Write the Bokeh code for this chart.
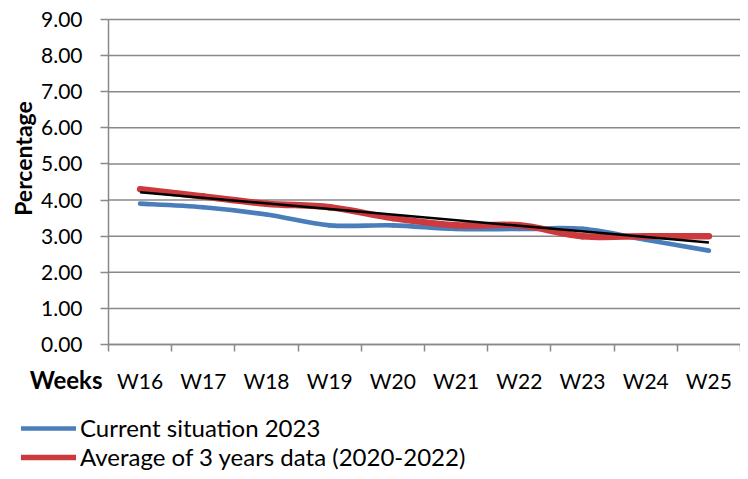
import numpy as np
from bokeh.plotting import figure
from bokeh.models import FixedTicker, Label, Legend, LegendItem, Range1d
from bokeh.embed import file_html
from bokeh.resources import INLINE

weeks = ["W16", "W17", "W18", "W19", "W20", "W21", "W22", "W23", "W24", "W25"]
current_2023 = [3.9, 3.8, 3.6, 3.3, 3.3, 3.2, 3.2, 3.2, 2.9, 2.6]
avg_2020_2022 = [4.3, 4.1, 3.9, 3.8, 3.5, 3.3, 3.3, 3.0, 3.0, 3.0]
y_ticks = [0, 1, 2, 3, 4, 5, 6, 7, 8, 9]

FONT = "Lato"
FS = "21px"
GRID = "#898989"
BLUE = "#4A7EBB"
RED = "#CD3A3D"

W, H = 740, 471
# pixel layout of the plotting area inside the canvas
PL, PR, PT, PB = 108, 740, 19, 344

n = len(weeks)
xs = np.arange(1, n + 1, dtype=float)
x_lo, x_hi = 0.5, n + 0.5
y_lo, y_hi = 0, 9
xppu = (PR - PL) / (x_hi - x_lo)
yppu = (PB - PT) / (y_hi - y_lo)

p = figure(width=W, height=H, output_backend="svg", toolbar_location=None,
           x_range=Range1d(x_lo - PL / xppu, x_hi + (W - PR) / xppu),
           y_range=Range1d(y_lo - (H - PB) / yppu, y_hi + PT / yppu),
           min_border=0, min_border_left=0, min_border_right=0,
           min_border_top=0, min_border_bottom=0)
p.outline_line_color = None
p.background_fill_color = "white"
p.xgrid.visible = False
p.ygrid.visible = False

# horizontal gridlines, spanning the category area only
p.segment(x0=[x_lo] * len(y_ticks), x1=[x_hi] * len(y_ticks), y0=y_ticks, y1=y_ticks,
          line_color=GRID, line_width=1.5, level="underlay")


def smooth(x, y):
    x = np.asarray(x, float)
    y = np.asarray(y, float)
    m = len(x)
    px = np.concatenate([[x[0]], x, [x[-1]]])
    py = np.concatenate([[y[0]], y, [y[-1]]])
    d = dict(x0=[], y0=[], x1=[], y1=[], cx0=[], cy0=[], cx1=[], cy1=[])
    for i in range(m - 1):
        a, b, c, e = i, i + 1, i + 2, i + 3
        d["x0"].append(px[b]); d["y0"].append(py[b])
        d["x1"].append(px[c]); d["y1"].append(py[c])
        d["cx0"].append(px[b] + (px[c] - px[a]) / 6)
        d["cy0"].append(py[b] + (py[c] - py[a]) / 6)
        d["cx1"].append(px[c] - (px[e] - px[b]) / 6)
        d["cy1"].append(py[c] - (py[e] - py[b]) / 6)
    return d


p.bezier(source=smooth(xs, current_2023), x0="x0", y0="y0", x1="x1", y1="y1",
         cx0="cx0", cy0="cy0", cx1="cx1", cy1="cy1",
         line_color=BLUE, line_width=4.7, line_cap="round")
p.bezier(source=smooth(xs, avg_2020_2022), x0="x0", y0="y0", x1="x1", y1="y1",
         cx0="cx0", cy0="cy0", cx1="cx1", cy1="cy1",
         line_color=RED, line_width=6.5, line_cap="round")

# linear trendline of the 3-year average
k, b0 = np.polyfit(xs, np.asarray(avg_2020_2022), 1)
p.line([xs[0], xs[-1]], [k * xs[0] + b0, k * xs[-1] + b0], line_color="black", line_width=2.5)

# legend-only glyphs
lb = p.line([np.nan], [np.nan], line_color=BLUE, line_width=4.5, line_cap="round")
lr = p.line([np.nan], [np.nan], line_color=RED, line_width=5.5, line_cap="round")

# x axis
p.xaxis.fixed_location = 0
p.xaxis.bounds = (x_lo, x_hi)
p.xaxis.ticker = FixedTicker(ticks=list(xs), minor_ticks=list(np.arange(x_lo, x_hi + 0.01, 1.0)))
p.xaxis.major_label_overrides = {float(v): w for v, w in zip(xs, weeks)}
p.xaxis.major_label_overrides.update({int(v): w for v, w in zip(xs, weeks)})
p.xaxis.major_tick_out = 0
p.xaxis.major_tick_in = 0
p.xaxis.minor_tick_out = 7
p.xaxis.minor_tick_in = 0
p.xaxis.minor_tick_line_color = GRID
p.xaxis.minor_tick_line_width = 1.5
p.xaxis.axis_line_color = GRID
p.xaxis.axis_line_width = 1.5
p.xaxis.major_label_standoff = 16
p.xaxis.major_label_text_font = FONT
p.xaxis.major_label_text_font_size = FS
p.xaxis.major_label_text_color = "black"

# y axis
p.yaxis.fixed_location = x_lo
p.yaxis.bounds = (y_lo, y_hi)
p.yaxis.ticker = FixedTicker(ticks=y_ticks)
p.yaxis.major_label_overrides = {v: f"{v:.2f}" for v in y_ticks}
p.yaxis.major_tick_out = 8
p.yaxis.major_tick_in = 0
p.yaxis.minor_tick_line_color = None
p.yaxis.major_tick_line_color = GRID
p.yaxis.major_tick_line_width = 1.5
p.yaxis.axis_line_color = GRID
p.yaxis.axis_line_width = 1.5
p.yaxis.major_label_standoff = 18
p.yaxis.major_label_text_font = FONT
p.yaxis.major_label_text_font_size = FS
p.yaxis.major_label_text_color = "black"

p.add_layout(Label(x=x_lo, y=y_lo, x_offset=-6, y_offset=-35, text="Weeks", text_align="right",
                   text_baseline="middle", text_font=FONT, text_font_size="24px",
                   text_font_style="bold", text_color="black"))
p.add_layout(Label(x=x_lo, y=5.15, x_offset=-86, text="Percentage", angle=np.pi / 2,
                   text_align="center", text_baseline="middle", text_font=FONT,
                   text_font_size="23px", text_font_style="bold", text_color="black"))

legend = Legend(items=[LegendItem(label="Current situation 2023", renderers=[lb]),
                       LegendItem(label="Average of 3 years data (2020-2022)", renderers=[lr])],
                location=(21, 0), orientation="vertical", glyph_width=55,
                glyph_height=26, label_height=26, label_standoff=4, spacing=0, padding=0,
                margin=0, label_text_font=FONT, label_text_font_size="24px",
                label_text_color="black", border_line_color=None, background_fill_alpha=0)
p.add_layout(legend, "center")

open("out.html", "w").write(file_html(p, INLINE))
